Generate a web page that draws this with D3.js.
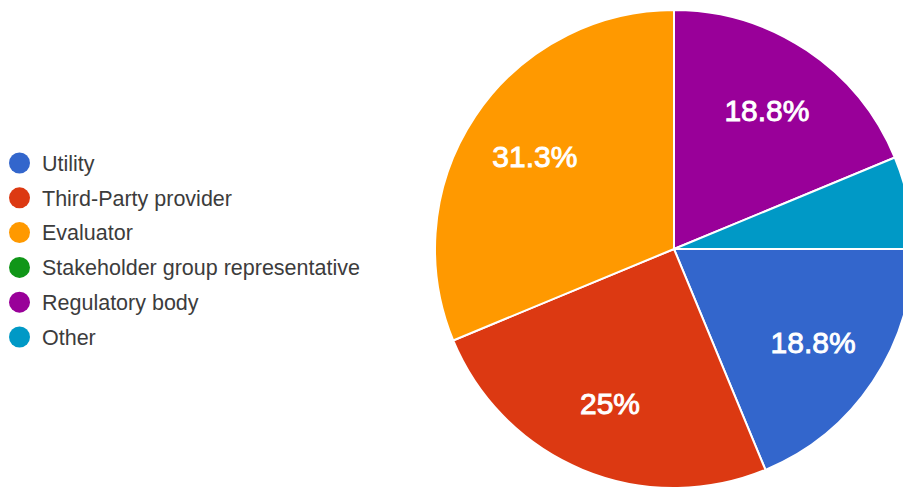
<!DOCTYPE html>
<html lang="en">
    <head>
        <meta charset="utf-8">
        <title>Respondent type</title>
        <script type="text/javascript" src="https://d3js.org/d3.v7.min.js"></script>

        <style type="text/css">
            body {
                margin: 0;
                background-color: #ffffff;
            }

            /* legend labels */
            .legend_labels {
                font-family: "Liberation Sans", Arial, sans-serif;
                font-size: 21.5px;
                fill: #3c3c3c;
            }

            /* percent labels on slices */
            .slice_labels {
                font-family: "Liberation Sans", Arial, sans-serif;
                font-size: 30px;
                fill: #ffffff;
                stroke: #ffffff;
                stroke-width: 0.9px;
            }
        </style>
    </head>

    <body>
        <svg width="903" height="487" id="svg1"></svg>

        <script type="text/javascript">

            // categories + response counts (16 responses)
            const categories = ["Utility", "Third-Party provider", "Evaluator",
                                "Stakeholder group representative", "Regulatory body", "Other"];
            const counts = [3, 4, 5, 0, 3, 1];
            const colors = ["#3366cc", "#dc3912", "#ff9900", "#109618", "#990099", "#0099c6"];

            const dataset = categories.map((c, i) => ({ name: c, value: counts[i] }));

            const svg = d3.select("#svg1");
            const cx = 674;
            const cy = 249;
            const radius = 239;

            const myColor = d3.scaleOrdinal()
                .domain(categories)
                .range(colors);

            // pie starts at 3 o'clock, clockwise, no sorting
            const pie = d3.pie()
                .value(d => d.value)
                .sort(null)
                .startAngle(Math.PI / 2)
                .endAngle(Math.PI / 2 + 2 * Math.PI);

            const arcs = pie(dataset);
            const total = d3.sum(counts);

            const arc = d3.arc()
                .innerRadius(0)
                .outerRadius(radius);

            const labelArc = d3.arc()
                .innerRadius(radius * 0.7)
                .outerRadius(radius * 0.7);

            const g = svg.append("g")
                .attr("transform", `translate(${cx},${cy})`);

            // slices
            g.selectAll("path")
                .data(arcs.filter(d => d.value > 0))
                .enter()
                .append("path")
                .attr("d", arc)
                .style("fill", d => myColor(d.data.name))
                .style("stroke", "#ffffff")
                .style("stroke-width", 2);

            // percent labels (skip the small slices)
            g.selectAll("text")
                .data(arcs.filter(d => d.value / total > 0.1))
                .enter()
                .append("text")
                .attr("class", "slice_labels")
                .attr("transform", d => `translate(${labelArc.centroid(d)})`)
                .attr("text-anchor", "middle")
                .attr("dy", "0.36em")
                .text(d => {
                    const p = Math.round(d.value / total * 1000) / 10;
                    return p + "%";
                });

            // CREATE LEGEND
            const legendX = 19.5;
            const legendY = 163;
            const step = 34.8;

            svg.selectAll("mydots")
                .data(categories)
                .enter()
                .append("circle")
                .attr("cx", legendX)
                .attr("cy", (d, i) => legendY + i * step)
                .attr("r", 10.5)
                .style("fill", d => myColor(d));

            svg.selectAll("mylabels")
                .data(categories)
                .enter()
                .append("text")
                .attr("class", "legend_labels")
                .attr("x", 42)
                .attr("y", (d, i) => legendY + i * step)
                .attr("dy", "0.36em")
                .text(d => d);

        </script>
    </body>
</html>
